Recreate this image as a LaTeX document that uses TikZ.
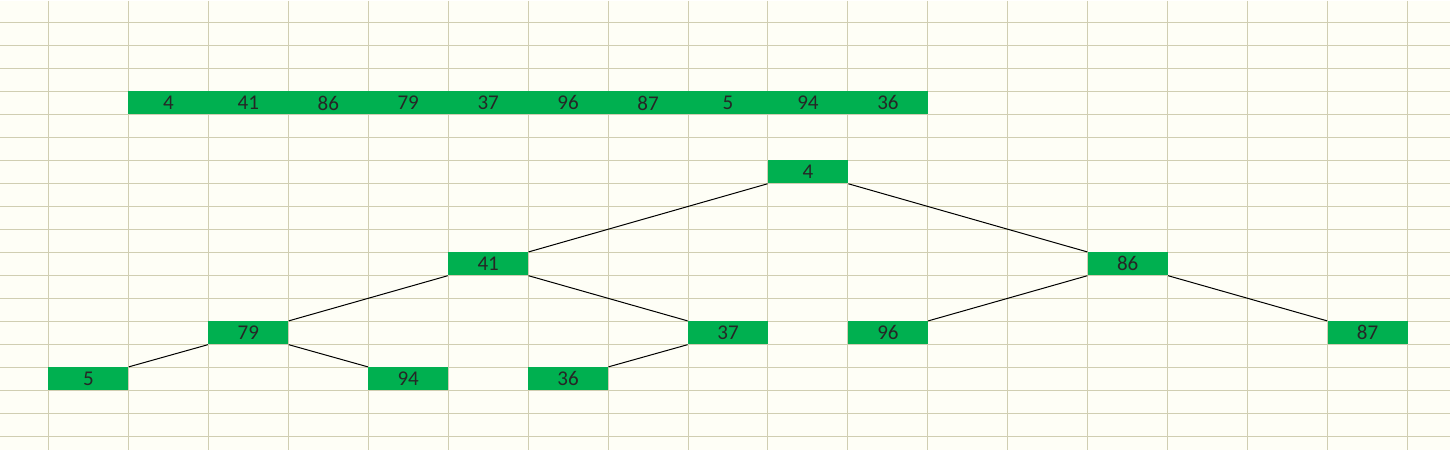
\documentclass[tikz,border=0pt]{standalone}
\usepackage{fontspec}
\setmainfont{Carlito}
\usepackage{tikz}

\definecolor{sheetbg}{RGB}{254,254,246}
\definecolor{gridline}{RGB}{208,206,178}
\definecolor{cellgreen}{RGB}{0,176,80}

\begin{document}
\begin{tikzpicture}[x=0.5pt,y=-0.5pt,
    cell/.style={rectangle,fill=cellgreen,inner sep=0pt,minimum width=40pt,minimum height=11.5pt,
      font=\fontsize{10.5}{12}\selectfont,text=black!85},
    link/.style={draw=black,line width=0.5pt}]
	    % sheet and its grid
	    \fill[sheetbg] (0,0) rectangle (1450,450);
	    \foreach \gx in {48,128,...,1408} \draw[gridline,line width=0.5pt] (\gx,0) -- (\gx,450);
	    \foreach \gy in {22,45,...,436} \draw[gridline,line width=0.5pt] (0,\gy) -- (1450,\gy);

	    % the array
	    \node[cell] at (168,102.5) (a1) {4};
	    \node[cell] at (248,102.5) (a2) {41};
	    \node[cell] at (328,102.5) (a3) {86};
	    \node[cell] at (408,102.5) (a4) {79};
	    \node[cell] at (488,102.5) (a5) {37};
	    \node[cell] at (568,102.5) (a6) {96};
	    \node[cell] at (648,102.5) (a7) {87};
	    \node[cell] at (728,102.5) (a8) {5};
	    \node[cell] at (808,102.5) (a9) {94};
	    \node[cell] at (888,102.5) (a10) {36};

	    % the tree
	    \node[cell] at (808,171.5) (t4) {4};
	    \node[cell] at (488,263.5) (t41) {41};
	    \node[cell] at (1128,263.5) (t86) {86};
	    \node[cell] at (248,332.5) (t79) {79};
	    \node[cell] at (728,332.5) (t37) {37};
	    \node[cell] at (888,332.5) (t96) {96};
	    \node[cell] at (1368,332.5) (t87) {87};
	    \node[cell] at (88,378.5) (t5) {5};
	    \node[cell] at (408,378.5) (t94) {94};
	    \node[cell] at (568,378.5) (t36) {36};

	    \path[link] (t4.south west) edge (t41.north east);
	    \path[link] (t4.south east) edge (t86.north west);
	    \path[link] (t41.south west) edge (t79.north east);
	    \path[link] (t41.south east) edge (t37.north west);
	    \path[link] (t86.south west) edge (t96.north east);
	    \path[link] (t86.south east) edge (t87.north west);
	    \path[link] (t79.south west) edge (t5.north east);
	    \path[link] (t79.south east) edge (t94.north west);
	    \path[link] (t37.south west) edge (t36.north east);
	\end{tikzpicture}
\end{document}
